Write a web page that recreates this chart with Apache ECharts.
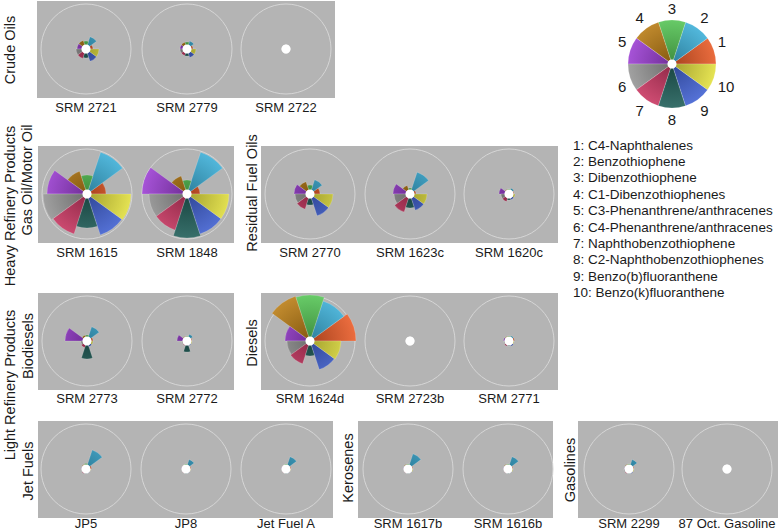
<!DOCTYPE html>
<html><head><meta charset="utf-8">
<script src="https://cdn.jsdelivr.net/npm/echarts@6/dist/echarts.min.js"></script>
<style>html,body{margin:0;padding:0;background:#fff}#c{width:780px;height:532px}</style>
</head><body><div id="c"></div>
<script>
// ---------- DATA ----------
const compoundIds = ['1','2','3','4','5','6','7','8','9','10'];
const compoundNames = ['C4-Naphthalenes','Benzothiophene','Dibenzothiophene','C1-Dibenzothiophenes',
  'C3-Phenanthrene/anthracenes','C4-Phenanthrene/anthracenes','Naphthobenzothiophene',
  'C2-Naphthobenzothiophenes','Benzo(b)fluoranthene','Benzo(k)fluoranthene'];
const groupLabels = ['Crude Oils','Gas Oil/Motor Oil','Residual Fuel Oils','Biodiesels','Diesels','Jet Fuels','Kerosenes','Gasolines'];
const superGroupLabels = ['Heavy Refinery Products','Light Refinery Products'];
const sampleNames = ['SRM 2721','SRM 2779','SRM 2722','SRM 1615','SRM 1848','SRM 2770','SRM 1623c','SRM 1620c',
  'SRM 2773','SRM 2772','SRM 1624d','SRM 2723b','SRM 2771','JP5','JP8','Jet Fuel A','SRM 1617b','SRM 1616b',
  'SRM 2299','87 Oct. Gasoline'];
// relative abundance (41 = outer reference ring)
const srm2721  = [3, 9, 4, 5, 5, 6, 6, 5, 9, 9];
const srm2779  = [2, 4.5, 3, 3, 3, 3, 3, 3, 5, 5];
const srm2722  = [0, 0, 0, 0, 0, 0, 0, 0, 0, 0];
const srm1615  = [15, 40, 15, 20, 36, 40, 38, 30, 39, 40];
const srm1848  = [9, 40, 10, 15, 41, 34, 34, 40, 38, 38];
const srm2770  = [6, 11, 5, 9, 12, 11, 12, 7, 19, 19];
const srm1623c = [2, 19, 2, 5, 13, 12, 15, 10, 13, 13];
const srm1620c = [1, 2, 1, 1, 6, 4, 4, 2, 2, 2];
const srm2773  = [2, 11, 2, 2, 18, 2, 3, 14, 2, 2];
const srm2772  = [1, 3, 1, 1, 6, 1, 1, 7, 1, 1];
const srm1624d = [42, 38, 42, 43, 21, 19, 20, 11, 26, 27];
const srm2723b = [0, 0, 0, 0, 0, 0, 0, 0, 0, 0];
const srm2771  = [1.5, 1.5, 1, 1, 1.5, 1, 1.5, 1, 1.5, 1];
const jp5      = [1.5, 16, 1.5, 1, 0.5, 0.5, 1, 0.5, 0.5, 0.5];
const jp8      = [1, 6, 1, 0.5, 0.5, 0.5, 0.5, 0.5, 0.5, 0.5];
const jetFuelA = [1, 9, 1, 0.5, 0.5, 0.5, 0.5, 0.5, 0.5, 0.5];
const srm1617b = [1, 12, 1, 1, 0.5, 0.5, 0.5, 0.5, 0.5, 1];
const srm1616b = [1, 9, 1, 1, 0.5, 0.5, 0.5, 0.5, 0.5, 1];
const srm2299  = [1, 6, 1, 1, 0.5, 1, 1, 0.5, 1, 1];
const oct87    = [0, 0, 0, 0, 0, 0, 0, 0, 0, 0];
const keyValues = [41, 41, 41, 41, 41, 41, 41, 41, 41, 41];
const sampleValues = [srm2721, srm2779, srm2722, srm1615, srm1848, srm2770, srm1623c, srm1620c,
  srm2773, srm2772, srm1624d, srm2723b, srm2771, jp5, jp8, jetFuelA, srm1617b, srm1616b, srm2299, oct87];

// ---------- LAYOUT / STYLE ----------
const baseColors = ['#e85c28','#3fb0d8','#56c456','#b87c16','#9c40d2','#979797','#c83862','#22605a','#4262d2','#e2e040'];
const panels = [[37,1,298,97],[38,146,196,97],[261,146,297,97],[38,293,196,97],[261,293,297,97],[38,421,295,97],[358,421,195,97],[578,421,200,97]];
const sampleLabelGap = [9,9,9,8,8,5,5,5];
const groupLabelPos = [[10,50],[27,180],[252,193],[28,346],[252,343],[28,471],[348,468],[570,470]];
const superLabelPos = [[10,206],[10,385]];
const centers = [[86,49],[187,49],[286,49],[87,194],[187,194],[310,194],[410,194],[509,194],
  [87,341],[187,341],[310,341],[410,341],[509,341],[86,469],[186,469],[286,469],[408,469],[508,469],[629,469],[727,469]];
const R0 = 4, R = 45, MAXV = 41;
const keyCenter = [672,64], keyR = 44;
const FONT = 'Liberation Sans, Arial, sans-serif';

function shade(hex, f) {
  const n = parseInt(hex.slice(1), 16);
  let r = (n >> 16) & 255, g = (n >> 8) & 255, b = n & 255;
  const c = v => Math.max(0, Math.min(255, Math.round(f >= 1 ? v + (255 - v) * (f - 1) : v * f)));
  return 'rgb(' + c(r) + ',' + c(g) + ',' + c(b) + ')';
}
function grad(i, cx, cy, r) {
  return { type: 'radial', x: cx, y: cy, r: r, global: true,
    colorStops: [{offset: 0, color: shade(baseColors[i], 0.72)}, {offset: 1, color: shade(baseColors[i], 1.1)}] };
}

const polar = [], angleAxis = [], radiusAxis = [], series = [];
function addRose(idx, center, values, rOuter, isKey) {
  polar.push({ center: center, radius: [R0, rOuter] });
  angleAxis.push({ polarIndex: idx, type: 'category', data: compoundIds, startAngle: 0, clockwise: false,
    axisLine: { show: !isKey, lineStyle: { color: '#d6d6d6', width: 1 } },
    axisTick: { show: false }, splitLine: { show: false },
    axisLabel: { show: !!isKey, interval: 0, margin: 4, fontSize: 15, color: '#1a1a1a', fontFamily: FONT } });
  radiusAxis.push({ polarIndex: idx, type: 'value', min: 0, max: MAXV, show: false,
    axisLine: {show:false}, axisLabel: {show:false}, splitLine: {show:false}, axisTick: {show:false} });
  series.push({ type: 'bar', coordinateSystem: 'polar', polarIndex: idx, barCategoryGap: '0%', clip: false,
    silent: true, z: 2,
    data: values.map((v, i) => ({ value: v, itemStyle: { color: grad(i, center[0], center[1], rOuter),
      borderColor: 'rgba(255,255,255,0.35)', borderWidth: 0.5 } })) });
  series.push({ type: 'pie', center: center, radius: [0, R0 + 0.5], silent: true, z: 5,
    label: { show: false }, labelLine: { show: false },
    data: [{ value: 1, itemStyle: { color: '#ffffff' } }] });
}
sampleValues.forEach((vals, k) => addRose(k, centers[k], vals, R, false));
addRose(sampleValues.length, keyCenter, keyValues, keyR, true);

const graphic = [];
panels.forEach(p => graphic.push({ type: 'rect', z: -5, shape: { x: p[0], y: p[1], width: p[2], height: p[3] },
  style: { fill: '#b4b4b4' } }));
function txt(s, x, y, size, align, rot) {
  return { type: 'text', z: 10, x: x, y: y, rotation: rot || 0,
    style: { text: s, x: 0, y: 0, fill: '#1a1a1a', font: size + 'px ' + FONT, textAlign: align || 'center', textVerticalAlign: 'middle' } };
}
groupLabels.forEach((s, k) => graphic.push(txt(s, groupLabelPos[k][0], groupLabelPos[k][1], 14.5, 'center', Math.PI / 2)));
superGroupLabels.forEach((s, k) => graphic.push(txt(s, superLabelPos[k][0], superLabelPos[k][1], 14.5, 'center', Math.PI / 2)));
const panelOfSample = [0,0,0,1,1,2,2,2,3,3,4,4,4,5,5,5,6,6,7,7];
sampleNames.forEach((s, k) => {
  const pi = panelOfSample[k], p = panels[pi];
  graphic.push(txt(s, centers[k][0], p[1] + p[3] + sampleLabelGap[pi], 13, 'center'));
});
compoundNames.forEach((s, k) => graphic.push(txt(compoundIds[k] + ': ' + s, 573, 145 + k * 16.4, 13.5, 'left')));

const chart = echarts.init(document.getElementById('c'), null, { renderer: 'svg' });
chart.setOption({ animation: false, backgroundColor: '#ffffff', polar, angleAxis, radiusAxis, series, graphic });
</script></body></html>
